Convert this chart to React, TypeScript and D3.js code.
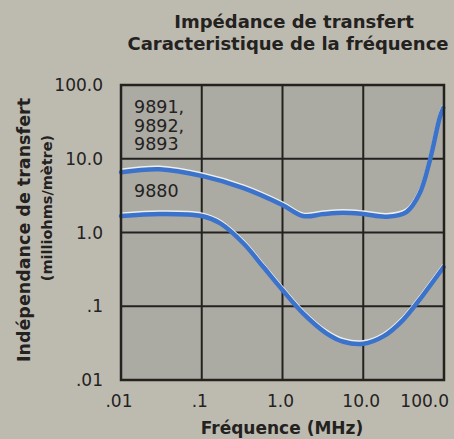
import * as d3 from 'd3';
import { useEffect, useRef } from 'react';

// frequency (MHz) / impedance (milliohms/metre)
const freqHigh = [0.01, 0.03, 0.1, 0.33, 1.0, 1.8, 3.2, 5.6, 10, 19.5, 34.5, 50, 67, 89, 98];
const zHigh = [6.55, 7.2, 5.85, 4.0, 2.36, 1.67, 1.78, 1.85, 1.78, 1.64, 1.91, 3.4, 9.6, 37, 49];

const freqLow = [0.01, 0.03, 0.1, 0.17, 0.33, 0.58, 1.0, 1.8, 3.5, 5.7, 10, 17.7, 31, 55, 99];
const zLow = [1.67, 1.78, 1.67, 1.33, 0.71, 0.34, 0.166, 0.08, 0.043, 0.033, 0.031, 0.039, 0.065, 0.142, 0.34];

const ticks = [0.01, 0.1, 1, 10, 100];
const xTickLabels = ['.01', '.1', '1.0', '10.0', '100.0'];
const yTickLabels = ['.01', '.1', '1.0', '10.0', '100.0'];

const title = ['Impédance de transfert', 'Caracteristique de la fréquence'];
const seriesLabels = [['9891,', '9892,', '9893'], ['9880']];

const W = 454;
const H = 439;
const margin = { top: 85, right: 10, bottom: 59, left: 121 };

const bg = '#bdbbb0';
const plotBg = '#abaaa3';
const ink = '#24221f';
const blue = '#3b72cc';

const App = () => {
  const ref = useRef(null);

  useEffect(() => {
    document.body.style.margin = '0';
    document.body.style.background = bg;

    const svg = d3.select(ref.current);
    svg.selectAll('*').remove();

    const x = d3.scaleLog().domain([0.01, 100]).range([margin.left, W - margin.right]);
    const y = d3.scaleLog().domain([0.01, 100]).range([H - margin.bottom, margin.top]);

    svg.append('rect').attr('width', W).attr('height', H).attr('fill', bg);

    svg
      .append('rect')
      .attr('x', x(0.01))
      .attr('y', y(100))
      .attr('width', x(100) - x(0.01))
      .attr('height', y(0.01) - y(100))
      .attr('fill', plotBg);

    // grid
    const grid = svg.append('g').attr('stroke', ink).attr('stroke-width', 2);
    ticks.slice(1, -1).forEach((t) => {
      grid.append('line').attr('x1', x(t)).attr('x2', x(t)).attr('y1', y(0.01)).attr('y2', y(100));
      grid.append('line').attr('x1', x(0.01)).attr('x2', x(100)).attr('y1', y(t)).attr('y2', y(t));
    });

    // labels inside
    const lab = svg
      .append('g')
      .attr('font-family', 'DejaVu Sans')
      .attr('font-size', 17.5)
      .attr('fill', ink);
    seriesLabels[0].forEach((s, i) => {
      lab.append('text').attr('x', 134).attr('y', 113 + i * 18.5).text(s);
    });
    lab.append('text').attr('x', 134).attr('y', 197).text(seriesLabels[1][0]);

    // curves
    const line = d3
      .line()
      .x((d) => x(d[0]))
      .y((d) => y(d[1]))
      .curve(d3.curveCatmullRom.alpha(0.5));

    const series = [
      d3.zip(freqHigh, zHigh),
      d3.zip(freqLow, zLow),
    ];
    series.forEach((pts) => {
      svg
        .append('path')
        .datum(pts)
        .attr('d', line)
        .attr('fill', 'none')
        .attr('stroke', '#eef0ee')
        .attr('stroke-width', 3)
        .attr('transform', 'translate(0,-2.2)');
      svg
        .append('path')
        .datum(pts)
        .attr('d', line)
        .attr('fill', 'none')
        .attr('stroke', blue)
        .attr('stroke-width', 4.5)
        .attr('stroke-linecap', 'round');
    });

    // frame
    svg
      .append('rect')
      .attr('x', x(0.01))
      .attr('y', y(100))
      .attr('width', x(100) - x(0.01))
      .attr('height', y(0.01) - y(100))
      .attr('fill', 'none')
      .attr('stroke', ink)
      .attr('stroke-width', 2.5);

    // tick labels
    const tk = svg
      .append('g')
      .attr('font-family', 'DejaVu Sans')
      .attr('font-size', 17)
      .attr('fill', ink);
    ticks.forEach((t, i) => {
      tk.append('text')
        .attr('x', margin.left - 18)
        .attr('y', y(t) + 6)
        .attr('text-anchor', 'end')
        .text(yTickLabels[i]);
      const last = i === ticks.length - 1;
      tk.append('text')
        .attr('x', last ? x(t) + 5 : x(t) - 2)
        .attr('y', H - margin.bottom + 27)
        .attr('text-anchor', last ? 'end' : 'middle')
        .text(xTickLabels[i]);
    });

    // titles
    const tt = svg
      .append('g')
      .attr('font-family', 'DejaVu Sans')
      .attr('font-weight', 'bold')
      .attr('fill', ink)
      .attr('text-anchor', 'middle');
    tt.append('text').attr('x', 294).attr('y', 28).attr('font-size', 18).text(title[0]);
    tt.append('text').attr('x', 288).attr('y', 50).attr('font-size', 18).text(title[1]);
    tt.append('text')
      .attr('x', 282)
      .attr('y', 434)
      .attr('font-size', 17)
      .text('Fréquence (MHz)');
    tt.append('text')
      .attr('transform', 'translate(30,230) rotate(-90)')
      .attr('font-size', 17.5)
      .text('Indépendance de transfert');
    tt.append('text')
      .attr('transform', 'translate(52,208) rotate(-90)')
      .attr('font-size', 14.5)
      .text('(milliohms/mètre)');
  }, []);

  return <svg ref={ref} width={W} height={H} style={{ display: 'block' }}></svg>;
};

export default App;
